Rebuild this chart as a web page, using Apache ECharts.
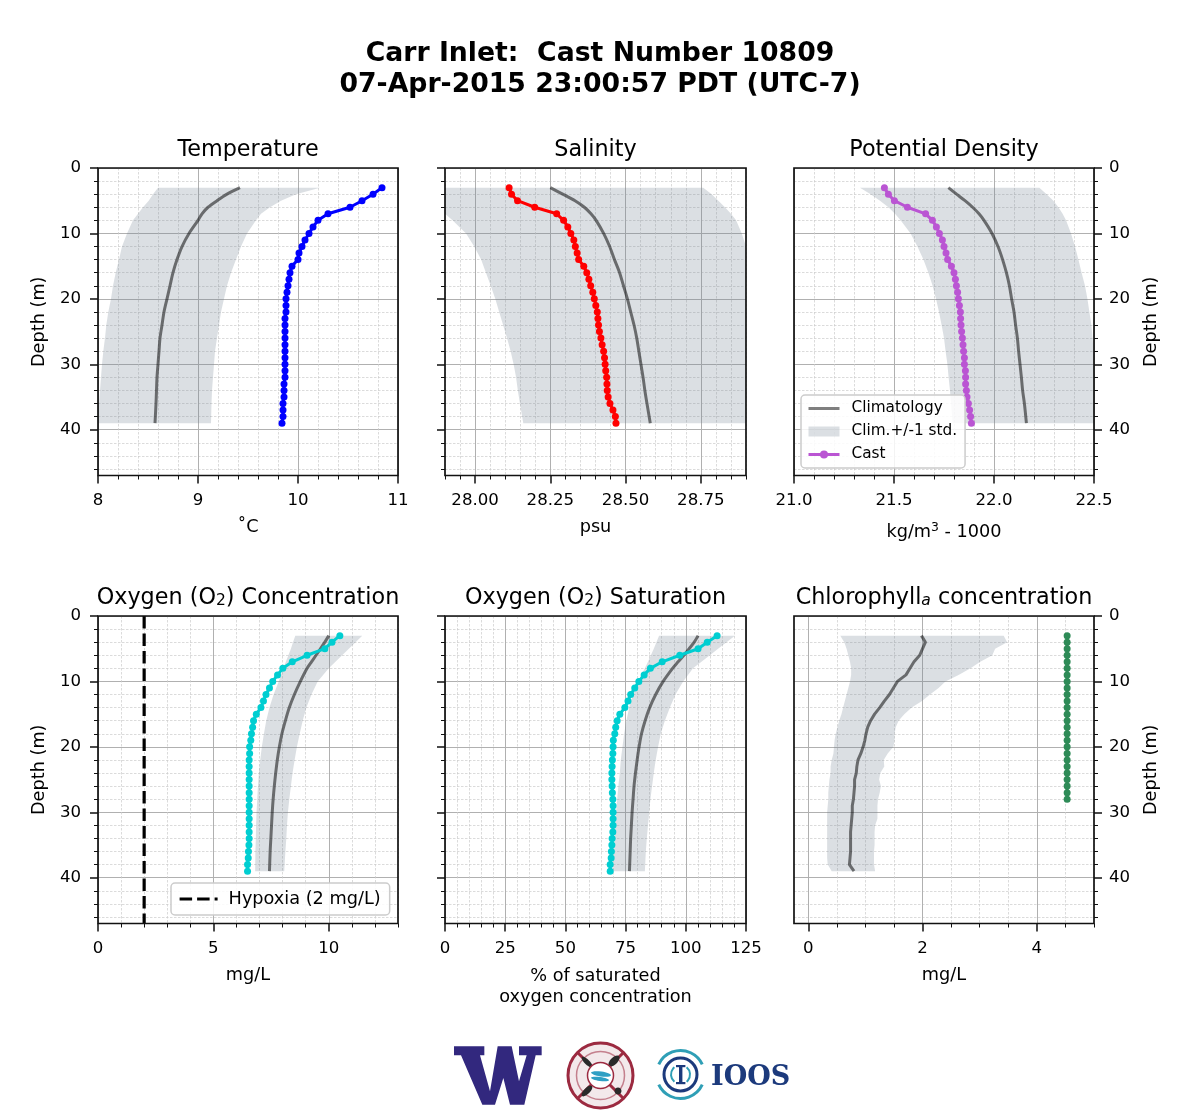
<!DOCTYPE html>
<html><head><meta charset="utf-8">
<style>html,body{margin:0;padding:0;background:#fff}#c{width:1200px;height:1120px}</style>
<script src="https://cdn.jsdelivr.net/npm/echarts@6/dist/echarts.min.js"></script>
</head><body><div id="c"></div>
<script>
const castDepth = [3,4,5,6,7,8,9,10,11,12,13,14,15,16,17,18,19,20,21,22,23,24,25,26,27,28,29,30,31,32,33,34,35,36,37,38,39];
const climDepth = [3,4,5,6,7,8,10,12,14,16,18,20,22,24,26,28,30,32,34,36,39];

const tempCast = [10.84,10.75,10.64,10.52,10.30,10.20,10.15,10.11,10.07,10.04,10.01,10.00,9.94,9.92,9.91,9.90,9.89,9.88,9.88,9.88,9.87,9.87,9.87,9.87,9.87,9.87,9.87,9.87,9.87,9.87,9.86,9.86,9.86,9.85,9.85,9.85,9.84];
const tempClim = [9.42,9.29,9.19,9.10,9.04,9.00,8.91,8.84,8.79,8.75,8.72,8.69,8.66,8.64,8.62,8.61,8.60,8.59,8.585,8.58,8.57];
const tempLow  = [8.60,8.55,8.507,8.45,8.40,8.35,8.29,8.24,8.21,8.177,8.15,8.13,8.103,8.083,8.07,8.053,8.04,8.03,8.02,8.01,8.00];
const tempHigh = [10.22,9.98,9.83,9.72,9.63,9.58,9.49,9.43,9.38,9.33,9.29,9.26,9.23,9.21,9.19,9.17,9.16,9.15,9.14,9.135,9.13];

const salCast = [28.113,28.121,28.141,28.198,28.271,28.294,28.308,28.318,28.328,28.333,28.339,28.344,28.361,28.371,28.378,28.384,28.391,28.396,28.401,28.406,28.408,28.41,28.413,28.418,28.422,28.427,28.43,28.432,28.434,28.437,28.438,28.439,28.442,28.448,28.458,28.466,28.468];
const salClim = [28.25,28.291,28.332,28.363,28.385,28.402,28.427,28.447,28.463,28.48,28.493,28.506,28.517,28.528,28.537,28.544,28.551,28.558,28.564,28.571,28.582];
const salLow  = [27.78,27.81,27.84,27.87,27.90,27.925,27.97,27.997,28.02,28.036,28.052,28.067,28.08,28.093,28.106,28.118,28.128,28.136,28.142,28.149,28.16];
const salHigh = [28.758,28.786,28.808,28.83,28.85,28.867,28.886,28.90,28.925,28.95,28.97,29.0,29.02,29.04,29.06,29.08,29.1,29.11,29.12,29.13,29.15];

const denCast = [21.452,21.472,21.502,21.567,21.658,21.692,21.712,21.727,21.742,21.75,21.76,21.768,21.787,21.80,21.807,21.812,21.818,21.822,21.827,21.832,21.833,21.835,21.838,21.842,21.845,21.848,21.852,21.852,21.857,21.858,21.858,21.862,21.865,21.872,21.878,21.883,21.887];
const denClim = [21.772,21.813,21.855,21.893,21.925,21.95,21.99,22.02,22.043,22.062,22.077,22.088,22.10,22.108,22.117,22.123,22.13,22.137,22.143,22.152,22.162];
const denLow  = [21.33,21.383,21.43,21.472,21.505,21.533,21.583,21.617,21.647,21.672,21.693,21.71,21.725,21.738,21.75,21.758,21.767,21.773,21.78,21.785,21.793];
const denHigh = [22.227,22.263,22.297,22.322,22.343,22.36,22.385,22.405,22.422,22.438,22.455,22.467,22.477,22.487,22.493,22.498,22.505,22.51,22.515,22.52,22.525];

const oxyCast = [10.48,10.14,9.83,9.06,8.42,8.01,7.78,7.57,7.43,7.28,7.17,7.06,6.86,6.74,6.70,6.65,6.62,6.57,6.57,6.55,6.55,6.55,6.55,6.55,6.55,6.55,6.55,6.55,6.55,6.55,6.55,6.55,6.54,6.52,6.51,6.48,6.48];
const oxyClim = [10.0,9.83,9.64,9.45,9.25,9.06,8.77,8.51,8.29,8.12,7.97,7.86,7.77,7.70,7.64,7.59,7.55,7.52,7.49,7.46,7.43];
const oxyLow  = [8.55,8.45,8.36,8.25,8.14,8.03,7.83,7.61,7.43,7.29,7.19,7.10,7.03,6.97,6.93,6.90,6.87,6.85,6.84,6.82,6.81];
const oxyHigh = [11.45,11.16,10.87,10.58,10.29,10.0,9.52,9.25,9.03,8.87,8.74,8.62,8.52,8.43,8.36,8.29,8.23,8.19,8.16,8.12,8.07];
const hypoxiaX = [2,2];
const hypoxiaY = [0,47];

const satCast = [113.0,108.9,105.1,97.5,90.2,85.3,82.7,80.5,78.8,77.1,76.0,74.7,72.6,71.5,70.9,70.5,69.9,69.8,69.7,69.5,69.4,69.3,69.3,69.4,69.5,69.7,69.8,69.8,69.8,69.8,69.7,69.4,69.3,69.1,69.0,68.6,68.6];
const satClim = [105.1,103.5,101.4,99.2,96.8,94.5,90.6,87.5,85.0,83.1,81.6,80.6,79.8,79.1,78.5,78.1,77.7,77.4,77.1,76.9,76.6];
const satLow  = [88.9,87.8,86.7,85.5,84.3,83.0,80.2,78.1,76.5,75.3,74.4,73.7,73.0,72.6,72.0,71.5,71.0,70.7,70.5,70.2,69.8];
const satHigh = [120.4,116.9,113.4,110,106.5,103,98.9,95.7,93.4,91.3,89.6,88.5,87.5,86.7,86,85.3,84.8,84.3,83.8,83.4,83];

const chlCastDepth = [3,4,5,6,7,8,9,10,11,12,13,14,15,16,17,18,19,20,21,22,23,24,25,26,27,28];
const chlCast = [4.53,4.53,4.53,4.53,4.53,4.53,4.53,4.53,4.53,4.53,4.53,4.53,4.53,4.53,4.53,4.53,4.53,4.53,4.53,4.53,4.53,4.53,4.53,4.53,4.53,4.53];
const chlClim = [1.98,2.05,2.0,1.95,1.85,1.78,1.71,1.56,1.49,1.42,1.33,1.25,1.16,1.09,1.04,1.01,0.99,0.96,0.92,0.87,0.85,0.84,0.81,0.81,0.80,0.79,0.77,0.77,0.76,0.75,0.74,0.74,0.74,0.74,0.73,0.72,0.80];
const chlLow  = [0.56,0.63,0.67,0.70,0.73,0.75,0.75,0.73,0.70,0.67,0.64,0.61,0.58,0.54,0.51,0.48,0.46,0.45,0.44,0.41,0.39,0.39,0.37,0.36,0.35,0.35,0.34,0.33,0.33,0.33,0.33,0.33,0.33,0.33,0.33,0.34,0.41];
const chlHigh = [3.42,3.48,3.27,3.22,3.01,2.84,2.63,2.40,2.28,2.13,1.99,1.81,1.68,1.58,1.53,1.51,1.51,1.49,1.39,1.32,1.33,1.26,1.24,1.27,1.25,1.22,1.21,1.21,1.21,1.17,1.16,1.16,1.16,1.15,1.15,1.15,1.17];

const depthTicks = [0,10,20,30,40];
const depthMinor = [2,4,6,8,12,14,16,18,22,24,26,28,32,34,36,38,42,44,46];

const FONT = 'DejaVu Sans';
const BAND = 'rgba(112,128,144,0.25)';
const CLIM = 'rgba(0,0,0,0.52)';
const TICKFS = 16.6, NAMEFS = 17.7, TITLEFS = 22.3;
const SUBRICH = {
  sub:{fontFamily:FONT,fontSize:15.5,color:'#000',verticalAlign:'bottom',lineHeight:18,padding:[10,0,0,0]},
  subi:{fontFamily:FONT,fontSize:15.5,fontStyle:'italic',color:'#000',verticalAlign:'bottom',lineHeight:18,padding:[10,0,0,0]},
  sup:{fontFamily:FONT,fontSize:12.4,color:'#000',verticalAlign:'top',lineHeight:13,padding:[0,0,9,0]}
};

const panels = [
 {title:'Temperature', xName:'˚C', nameGap:41, left:98, top:168, width:300, min:8, max:11, ticks:[8,9,10,11], minor:[8.2,8.4,8.6,8.8,9.2,9.4,9.6,9.8,10.2,10.4,10.6,10.8], dec:0, side:'left', showY:true, smooth:true,
  cast:tempCast, castD:castDepth, clim:tempClim, climD:climDepth, low:tempLow, high:tempHigh, color:'#0000ff'},
 {title:'Salinity', xName:'psu', nameGap:41, left:445, top:168, width:301, min:27.9, max:28.9, ticks:[28,28.25,28.5,28.75], minor:[27.9,27.95,28.05,28.1,28.15,28.2,28.3,28.35,28.4,28.45,28.55,28.6,28.65,28.7,28.8,28.85,28.9], dec:2, side:'left', showY:false, smooth:true,
  cast:salCast, castD:castDepth, clim:salClim, climD:climDepth, low:salLow, high:salHigh, color:'#ff0000'},
 {title:'Potential Density', xName:'kg/m{sup|3} - 1000', nameGap:46, left:794, top:168, width:300, min:21, max:22.5, ticks:[21,21.5,22,22.5], minor:[21.1,21.2,21.3,21.4,21.6,21.7,21.8,21.9,22.1,22.2,22.3,22.4], dec:1, side:'right', showY:true, smooth:true,
  cast:denCast, castD:castDepth, clim:denClim, climD:climDepth, low:denLow, high:denHigh, color:'#ba55d3', legend:true},
 {title:'Oxygen (O{sub|2}) Concentration', xName:'mg/L', nameGap:41, left:98, top:616, width:300, min:0, max:13, ticks:[0,5,10], minor:[1,2,3,4,6,7,8,9,11,12,13], dec:0, side:'left', showY:true, smooth:true,
  cast:oxyCast, castD:castDepth, clim:oxyClim, climD:climDepth, low:oxyLow, high:oxyHigh, color:'#00ced1', hypoxia:true},
 {title:'Oxygen (O{sub|2}) Saturation', xName:'% of saturated\noxygen concentration', nameGap:42, left:445, top:616, width:301, min:0, max:125, ticks:[0,25,50,75,100,125], minor:[5,10,15,20,30,35,40,45,55,60,65,70,80,85,90,95,105,110,115,120], dec:0, side:'left', showY:false, smooth:true,
  cast:satCast, castD:castDepth, clim:satClim, climD:climDepth, low:satLow, high:satHigh, color:'#00ced1'},
 {title:'Chlorophyll{subi|a} concentration', xName:'mg/L', nameGap:41, left:794, top:616, width:300, min:-0.25, max:5, ticks:[0,2,4], minor:[0.5,1,1.5,2.5,3,3.5,4.5,5], dec:0, side:'right', showY:true, smooth:false,
  cast:chlCast, castD:chlCastDepth, clim:chlClim, climD:castDepth, low:chlLow, high:chlHigh, color:'#2e8b57'}
];

const PH = 307.5;
const grids=[], xAxes=[], yAxes=[], series=[], titles=[], legends=[];
titles.push({text:'Carr Inlet:  Cast Number 10809\n07-Apr-2015 23:00:57 PDT (UTC-7)', left:600, top:39, padding:0, textAlign:'center',
  textStyle:{fontFamily:FONT,fontSize:26.7,fontWeight:'bold',color:'#000',lineHeight:31}});

const bandSeries = (i,p)=>({
  type:'custom', name:'Clim.+/-1 std.', coordinateSystem:'cartesian2d', xAxisIndex:2*i+1, yAxisIndex:2*i+1,
  clip:true, silent:true, itemStyle:{color:BAND}, z:1,
  encode:{x:[0,1],y:2},
  data:p.climD.map((d,k)=>[p.low[k],p.high[k],d]),
  renderItem:(params,api)=>{
    if(params.dataIndex!==0) return null;
    const a=p.climD.map((d,k)=>api.coord([p.low[k],d]));
    const b=p.climD.map((d,k)=>api.coord([p.high[k],d])).reverse();
    return {type:'polygon',shape:{points:a.concat(b)},style:{fill:BAND}};
  }
});

panels.forEach((p,i)=>{
  grids.push({show:true,left:p.left,top:p.top,width:p.width,height:PH,borderColor:'#111',borderWidth:1.7,backgroundColor:'transparent',z:9});
  xAxes.push({type:'value',gridIndex:i,min:p.min,max:p.max,position:'bottom',
    axisLine:{show:false,onZero:false},axisLabel:{show:false},
    axisTick:{show:true,length:4,customValues:p.minor,lineStyle:{color:'#111',width:1}},
    splitLine:{show:true,customValues:p.minor,lineStyle:{color:'#cccccc',width:0.7,type:[2.5,1.5]}}});
  xAxes.push({type:'value',gridIndex:i,min:p.min,max:p.max,position:'bottom',
    name:p.xName,nameLocation:'middle',nameGap:p.nameGap,
    nameTextStyle:{fontFamily:FONT,fontSize:NAMEFS,color:'#000',rich:SUBRICH,lineHeight:21},
    axisLine:{show:false,onZero:false},
    axisLabel:{show:true,customValues:p.ticks,fontFamily:FONT,fontSize:TICKFS,color:'#000',margin:17,formatter:v=>v.toFixed(p.dec)},
    axisTick:{show:true,length:8,customValues:p.ticks,lineStyle:{color:'#111',width:1.5}},
    splitLine:{show:true,customValues:p.ticks,lineStyle:{color:'#b0b0b0',width:1}}});
  yAxes.push({type:'value',gridIndex:i,min:0,max:47,inverse:true,position:p.side,
    axisLine:{show:false,onZero:false},axisLabel:{show:false},
    axisTick:{show:true,length:4,customValues:depthMinor,lineStyle:{color:'#111',width:1}},
    splitLine:{show:true,customValues:depthMinor,lineStyle:{color:'#cccccc',width:0.7,type:[2.5,1.5]}}});
  yAxes.push({type:'value',gridIndex:i,min:0,max:47,inverse:true,position:p.side,
    name:p.showY?'Depth (m)':'',nameLocation:'middle',nameGap:p.side==='left'?50:48,nameRotate:90,
    nameTextStyle:{fontFamily:FONT,fontSize:NAMEFS,color:'#000'},
    axisLine:{show:false,onZero:false},
    axisLabel:{show:p.showY,customValues:depthTicks,fontFamily:FONT,fontSize:TICKFS,color:'#000',margin:p.side==='left'?17:15,padding:[5,0,0,0]},
    axisTick:{show:true,length:8,customValues:depthTicks,lineStyle:{color:'#111',width:1.5}},
    splitLine:{show:true,customValues:depthTicks,lineStyle:{color:'#b0b0b0',width:1}}});

  series.push(bandSeries(i,p));
  series.push({type:'line',name:'Climatology',xAxisIndex:2*i+1,yAxisIndex:2*i+1,symbol:'none',silent:true,z:2,clip:true,
    smooth:p.smooth?0.3:false,
    lineStyle:{color:CLIM,width:3},itemStyle:{color:CLIM},
    data:p.climD.map((d,k)=>[p.clim[k],d])});
  series.push({type:'line',name:'Cast',xAxisIndex:2*i+1,yAxisIndex:2*i+1,symbol:'circle',symbolSize:7,silent:true,z:3,clip:false,
    lineStyle:{color:p.color,width:3},itemStyle:{color:p.color},
    data:p.castD.map((d,k)=>[p.cast[k],d])});
  if(p.hypoxia){
    series.push({type:'line',name:'Hypoxia (2 mg/L)',xAxisIndex:2*i+1,yAxisIndex:2*i+1,symbol:'none',silent:true,z:3,
      lineStyle:{color:'#000',width:3.2,type:[12.5,5]},itemStyle:{color:'#000'},
      data:hypoxiaX.map((x,k)=>[x,hypoxiaY[k]])});
  }
  titles.push({text:p.title,left:p.left+p.width/2,top:p.top-29,padding:0,textAlign:'center',
    textStyle:{fontFamily:FONT,fontSize:TITLEFS,fontWeight:'normal',color:'#000',rich:SUBRICH}});
});

const HIDE={color:'rgba(0,0,0,0)',opacity:0};
legends.push({show:true,orient:'vertical',left:801,top:395,z:8,itemWidth:31,itemHeight:10,itemGap:8,padding:[6,8,6,6],
  backgroundColor:'rgba(255,255,255,0.85)',borderColor:'#cccccc',borderWidth:1.5,borderRadius:4,selectedMode:false,
  textStyle:{fontFamily:FONT,fontSize:15.3,color:'#000',padding:[0,0,0,7]},
  data:[{name:'Climatology',itemStyle:HIDE,lineStyle:{color:'rgba(0,0,0,0.5)',width:3}},
        {name:'Clim.+/-1 std.',icon:'rect',itemStyle:{color:BAND}},
        {name:'Cast',itemStyle:{color:'#ba55d3'},lineStyle:{color:'#ba55d3',width:3}}]});
legends.push({show:true,orient:'vertical',left:171,top:883,z:8,itemWidth:38,itemHeight:10,padding:[7,9,7,7],
  backgroundColor:'rgba(255,255,255,0.85)',borderColor:'#cccccc',borderWidth:1.5,borderRadius:4,selectedMode:false,
  textStyle:{fontFamily:FONT,fontSize:17.7,color:'#000',padding:[0,0,0,6]},
  data:[{name:'Hypoxia (2 mg/L)',itemStyle:HIDE,lineStyle:{color:'#000',width:3.2,type:[12.5,5]}}]});

const UW='#32287e', RED='#9c2a40', NAVY='#1c3a7c', TEAL='#2f9fb6', INK='#2a2a2a';
const wPts=[[27,25],[118,25],[118,52],[105,52],[135,160],[158,25],[200,25],[222,130],[245,52],[222,52],[222,25],[290,25],[290,52],[272,52],[238,200],[195,200],[175,120],[150,200],[112,200],[48,52],[27,52]];
const d2=Math.PI/180;
const arcS=(cx,cy,r,a,b,col,w)=>({type:'arc',shape:{cx,cy,r,startAngle:a*d2,endAngle:b*d2,clockwise:true},style:{stroke:col,lineWidth:w,fill:'none'}});
const oval=(cx,cy,rx,ry,rot,fill)=>({type:'ellipse',x:cx,y:cy,rotation:rot*d2,shape:{cx:0,cy:0,rx,ry},style:{fill}});
const logo=[
 {type:'polygon',shape:{points:wPts.map(q=>[445+q[0]/3,1038+q[1]/3])},style:{fill:UW}},
 {type:'circle',shape:{cx:600.5,cy:1075.5,r:32.5},style:{fill:'#f3e9eb',stroke:RED,lineWidth:3}},
 {type:'line',shape:{x1:578,y1:1053,x2:623,y2:1098},style:{stroke:RED,lineWidth:3}},
 {type:'line',shape:{x1:623,y1:1053,x2:578,y2:1098},style:{stroke:RED,lineWidth:3}},
 arcS(600.5,1075.5,24,0,360,'rgba(156,42,64,0.55)',1.5),
 oval(587,1062,7,2.5,-45,INK), oval(614,1061,7,3.5,45,INK), oval(587,1091,7,3,45,INK), oval(618,1091,3.5,3.5,0,INK),
 {type:'circle',shape:{cx:600.5,cy:1075.5,r:13},style:{fill:'#fff',stroke:RED,lineWidth:1.5}},
 oval(601,1074,10,2.5,-8,'#2f9fc4'), oval(600,1079,9,2,-8,'#2f9fc4'),
 arcS(680.5,1074.5,24,205,335,TEAL,3), arcS(680.5,1074.5,24,25,155,TEAL,3),
 {type:'circle',shape:{cx:680.5,cy:1074.5,r:16.5},style:{fill:'none',stroke:NAVY,lineWidth:3}},
 arcS(680.5,1074.5,9.5,-50,50,TEAL,2), arcS(680.5,1074.5,9.5,130,230,TEAL,2),
 {type:'rect',shape:{x:679,y:1066,width:3.4,height:17},style:{fill:NAVY}},
 {type:'rect',shape:{x:676,y:1065,width:9.4,height:2.2},style:{fill:NAVY}},
 {type:'rect',shape:{x:676,y:1082,width:9.4,height:2.2},style:{fill:NAVY}},
 {type:'text',x:711,y:1078,style:{text:'IOOS',fontFamily:'DejaVu Serif',fontWeight:'bold',fontSize:27,fill:NAVY,verticalAlign:'middle'}}
];

const chart=echarts.init(document.getElementById('c'),null,{renderer:'canvas',width:1200,height:1120});
chart.setOption({animation:false,backgroundColor:'#fff',title:titles,legend:legends,grid:grids,xAxis:xAxes,yAxis:yAxes,series:series,graphic:{elements:logo}});
</script></body></html>
